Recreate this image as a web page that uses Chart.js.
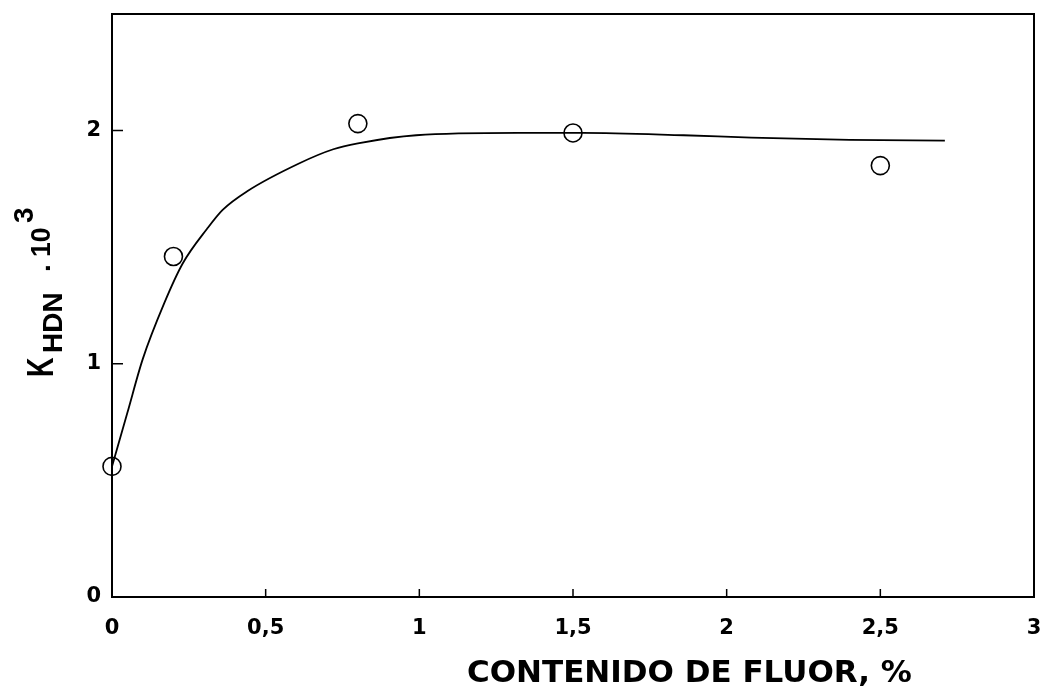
<!DOCTYPE html>
<html>
<head>
<meta charset="utf-8">
<script src="https://cdn.jsdelivr.net/npm/chart.js@4/dist/chart.umd.min.js"></script>
<style>
    html, body { margin: 0; padding: 0; background: #fff; }
    #wrap { width: 1048px; height: 690px; }
</style>
</head>
<body>
<div id="wrap"><canvas id="fluor-chart"></canvas></div>
<script>
// measured points (fluor %, K_HDN . 10^3)
const fluorPts = [0, 0.2, 0.8, 1.5, 2.5];
const khdnPts = [0.56, 1.46, 2.03, 1.99, 1.85];

// fitted curve
const curveX = [0, 0.05, 0.10, 0.17, 0.23, 0.31, 0.36, 0.44, 0.61, 0.72, 0.80, 0.99, 1.32, 1.53, 1.86, 2.08, 2.40, 2.71];
const curveY = [0.56, 0.79, 1.02, 1.26, 1.43, 1.58, 1.66, 1.74, 1.86, 1.92, 1.945, 1.98, 1.99, 1.99, 1.98, 1.97, 1.96, 1.957];

const xTicks = [0, 0.5, 1, 1.5, 2, 2.5, 3];
const yTicks = [0, 1, 2];

const INK = '#000';
const tickFont = { family: 'DejaVu Sans', size: 21, weight: 'bold' };

// frame, inward ticks and both axis titles
const framePlugin = {
    id: 'frame',
    afterDraw(chart) {
        const ctx = chart.ctx;
        const a = chart.chartArea;
        const xs = chart.scales.x, ys = chart.scales.y;
        ctx.save();
        ctx.strokeStyle = INK;
        ctx.lineWidth = 2;
        ctx.strokeRect(a.left, a.top, a.right - a.left, a.bottom - a.top);

        ctx.lineWidth = 1.5;
        ctx.beginPath();
        xTicks.slice(1, -1).forEach((v) => {
            const px = xs.getPixelForValue(v);
            ctx.moveTo(px, a.bottom);
            ctx.lineTo(px, a.bottom - 8);
        });
        yTicks.slice(1).forEach((v) => {
            const py = ys.getPixelForValue(v);
            ctx.moveTo(a.left, py);
            ctx.lineTo(a.left + 11, py);
        });
        ctx.stroke();

        // x title
        ctx.fillStyle = INK;
        ctx.font = 'bold 31px "DejaVu Sans"';
        ctx.textAlign = 'left';
        ctx.textBaseline = 'alphabetic';
        ctx.fillText('CONTENIDO DE FLUOR, %', 467, 682);

        // y title, pieces drawn rotated: K_HDN . 10^3
        const piece = (text, font, bx, by, sx) => {
            ctx.save();
            ctx.translate(bx, by);
            ctx.rotate(-Math.PI / 2);
            ctx.scale(sx, 1);
            ctx.font = font;
            ctx.fillText(text, 0, 0);
            ctx.restore();
        };
        piece('K', 'bold 36px "Liberation Sans"', 53, 377, 0.75);
        piece('HDN', 'bold 28px "Liberation Sans"', 62, 353, 1);
        piece('.', 'bold 28px "Liberation Sans"', 50, 272, 1);
        piece('10', 'bold 28px "Liberation Sans"', 50, 257, 0.95);
        piece('3', 'bold 28px "Liberation Sans"', 33, 223, 1);
        ctx.restore();
    }
};

const chart = new Chart(document.getElementById('fluor-chart'), {
    type: 'scatter',
    data: {
        datasets: [
            {
                label: 'curve',
                data: curveX.map((x, i) => ({x, y: curveY[i]})),
                showLine: true,
                borderColor: INK,
                borderWidth: 1.8,
                pointRadius: 0,
                cubicInterpolationMode: 'monotone',
                fill: false,
                clip: false
            },
            {
                label: 'K_HDN',
                data: fluorPts.map((x, i) => ({x, y: khdnPts[i]})),
                pointStyle: 'circle',
                pointRadius: 9,
                borderColor: INK,
                borderWidth: 1.6,
                backgroundColor: 'rgba(0,0,0,0)',
                clip: false
            }
        ]
    },
    options: {
        responsive: true,
        maintainAspectRatio: false,
        animation: false,
        layout: { autoPadding: false, padding: { top: 14, right: 14, left: 0, bottom: 0 } },
        plugins: {
            legend: { display: false },
            tooltip: { enabled: false }
        },
        scales: {
            x: {
                type: 'linear',
                min: 0, max: 3,
                grid: { display: false, drawTicks: false },
                border: { display: false },
                afterFit: (s) => { s.height = 93; s.paddingLeft = 0; s.paddingRight = 0; },
                afterBuildTicks: (s) => { s.ticks = xTicks.map((v) => ({value: v})); },
                ticks: {
                    color: INK, font: tickFont, padding: 19, maxRotation: 0,
                    callback: (v) => String(v).replace('.', ',')
                }
            },
            y: {
                type: 'linear',
                min: 0, max: 2.5,
                grid: { display: false, drawTicks: false },
                border: { display: false },
                afterFit: (s) => { s.width = 112; s.paddingTop = 0; s.paddingBottom = 0; },
                afterBuildTicks: (s) => { s.ticks = yTicks.map((v) => ({value: v})); },
                ticks: { color: INK, font: tickFont, padding: 11 }
            }
        }
    },
    plugins: [framePlugin]
});
</script>
</body>
</html>
